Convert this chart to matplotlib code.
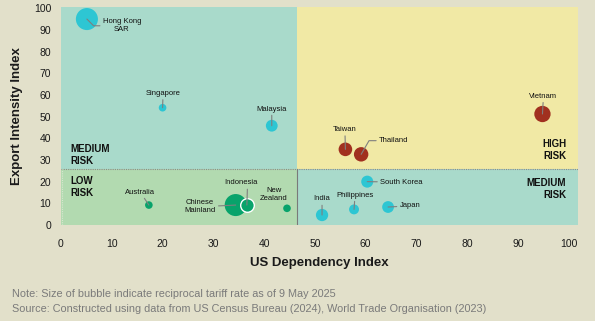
import matplotlib
matplotlib.use("Agg")
import matplotlib.pyplot as plt
from matplotlib.patches import Rectangle

plt.rcParams['font.family'] = ['Liberation Sans', 'DejaVu Sans']

# data
countries = ['Hong Kong\nSAR', 'Singapore', 'Malaysia', 'Vietnam', 'Taiwan', 'Thailand',
             'South Korea', 'Japan', 'Philippines', 'India', 'Australia',
             'Chinese\nMainland', 'Indonesia', 'New\nZealand']
us_dependency = [5.1, 20.0, 41.5, 94.8, 56.0, 59.1, 60.3, 64.4, 57.7, 51.4, 17.3, 34.4, 36.6, 44.5]
export_intensity = [95.0, 54.1, 45.8, 51.2, 34.9, 32.6, 20.0, 8.3, 7.2, 4.6, 9.2, 9.2, 9.2, 7.7]
tariff = [84, 10, 24, 46, 32, 36, 25, 24, 17, 26, 10, 84, 32, 10]
risk = ['medium', 'medium', 'medium', 'high', 'high', 'high', 'medium', 'medium',
        'medium', 'medium', 'low', 'low', 'low', 'low']

# label positions (data coords) for each country
label_x = [12.0, 20.1, 41.5, 95.0, 55.9, 65.5, 67.0, 68.7, 57.9, 51.4, 15.6, 27.4, 35.4, 41.9]
label_y = [91.9, 60.7, 53.5, 59.4, 44.0, 38.9, 19.8, 8.8, 13.8, 12.0, 15.2, 8.4, 19.4, 14.1]

x_split = 46.4
y_split = 25.7
xmax, ymax = 101.8, 100.7

colors = {'medium': '#2DC6D3', 'high': '#A1301F', 'low': '#08A36B'}
bg = '#E2E0CA'

fig = plt.figure(figsize=(5.95, 3.21), dpi=100, facecolor=bg)
ax = fig.add_axes([61/595, (321-225)/321, 517/595, 218.3/321])
ax.set_facecolor('none')

# quadrant backgrounds
ax.add_patch(Rectangle((0, y_split), x_split, ymax - y_split, color='#A9DACB', zorder=0, lw=0))
ax.add_patch(Rectangle((x_split, y_split), xmax - x_split, ymax - y_split, color='#F1E9A5', zorder=0, lw=0))
ax.add_patch(Rectangle((0, 0), x_split, y_split, color='#B2DAB0', zorder=0, lw=0))
ax.add_patch(Rectangle((x_split, 0), xmax - x_split, y_split, color='#A9DACB', zorder=0, lw=0))
ax.plot([0, xmax], [y_split, y_split], color='#8a8a8a', lw=0.8, ls=(0, (1, 1)), zorder=1)
ax.plot([x_split, x_split], [0, y_split], color='#7a7a7a', lw=0.8, zorder=1)
ax.plot([0.2, 0.2], [0, y_split], color='#d8e8d0', lw=0.8, ls=(0, (1, 1)), zorder=1)

for i in range(len(countries)):
    edge = 'white' if countries[i] == 'Indonesia' else 'none'
    ax.scatter(us_dependency[i], export_intensity[i], s=tariff[i] * 3.0,
               color=colors[risk[i]], edgecolors=edge, linewidths=1.0, zorder=3)

for i in range(len(countries)):
    name = countries[i]
    props = dict(arrowstyle='-', color='#7f7f7f', lw=0.8, shrinkA=0, shrinkB=0)
    if name.startswith('Hong'):
        props['connectionstyle'] = 'angle,angleA=0,angleB=-45,rad=0'
        props['relpos'] = (0, 0.5)
    elif name == 'Thailand':
        props['connectionstyle'] = 'angle,angleA=0,angleB=60,rad=0'
        props['relpos'] = (0, 0.5)
    elif name == 'Indonesia':
        props['relpos'] = (0.7, 0)
    if name.startswith('New'):
        props = None
    ax.annotate(name, xy=(us_dependency[i], export_intensity[i]),
                xytext=(label_x[i], label_y[i]), ha='center', va='center',
                fontsize=5.5, color='#111111', linespacing=1.2,
                arrowprops=props, zorder=4)

qfont = dict(fontsize=7, fontweight='bold', color='#111111', linespacing=1.25, va='center')
ax.text(1.8, 32.5, 'MEDIUM\nRISK', ha='left', **qfont)
ax.text(1.8, 17.5, 'LOW\nRISK', ha='left', **qfont)
ax.text(99.5, 34.5, 'HIGH\nRISK', ha='right', **qfont)
ax.text(99.5, 16.7, 'MEDIUM\nRISK', ha='right', **qfont)

ax.set_xlim(0, xmax)
ax.set_ylim(0, ymax)
ax.set_xticks(range(0, 101, 10))
ax.set_yticks(range(0, 101, 10))
ax.tick_params(axis='both', length=0, labelsize=7.5, colors='#1a1a1a')
ax.tick_params(axis='x', pad=10)
ax.tick_params(axis='y', pad=7)
for s in ax.spines.values():
    s.set_visible(False)

ax.set_xlabel('US Dependency Index', fontsize=9.5, fontweight='bold', color='#1a1a1a', labelpad=6)
ax.set_ylabel('Export Intensity Index', fontsize=9.5, fontweight='bold', color='#1a1a1a', labelpad=8)

fig.text(12/595, 1 - 294/321, 'Note: Size of bubble indicate reciprocal tariff rate as of 9 May 2025',
         fontsize=7.85, color='#7a7a7a', va='center')
fig.text(12/595, 1 - 309/321, 'Source: Constructed using data from US Census Bureau (2024), World Trade Organisation (2023)',
         fontsize=7.85, color='#7a7a7a', va='center')

fig.savefig('out.png', dpi=100, facecolor=bg)
